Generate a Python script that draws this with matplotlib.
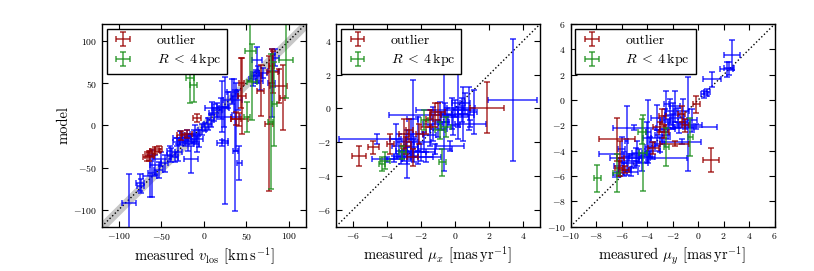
import matplotlib
matplotlib.use("Agg")
import matplotlib.pyplot as plt
import numpy as np

plt.rcParams.update({
    "font.family": "cmr10",
    "mathtext.fontset": "cm",
    "axes.formatter.use_mathtext": True,
    "xtick.direction": "in",
    "ytick.direction": "in",
    "xtick.top": True,
    "ytick.right": True,
    "xtick.major.size": 4,
    "ytick.major.size": 4,
    "xtick.labelsize": 7,
    "ytick.labelsize": 7,
    "axes.linewidth": 1.0,
})

BLUE = "#0000ff"
RED = "#990000"
GREEN = "#1a8f1a"

# rows: (measured, model, err_measured, err_model)
vlos_blue = [
    (-88, -92, 8, 34), (-75, -68, 5, 10), (-74, -72, 4, 8), (-63, -60, 8, 25),
    (-61, -57, 5, 28), (-57, -47, 6, 12), (-53, -53, 5, 10), (-50, -40, 10, 8),
    (-46, -45, 4, 10), (-38, -35, 5, 8), (-34, -38, 4, 6), (-25, -15, 6, 6),
    (-22, -18, 8, 7), (-20, -14, 5, 8), (-18, -20, 6, 10), (-15, -16, 7, 6),
    (-12, -13, 5, 8), (-15, -40, 8, 16), (-8, -22, 3, 10), (-5, -16, 4, 10),
    (-2, -5, 5, 6), (2, -2, 4, 5), (5, 2, 5, 7), (8, 6, 4, 8), (10, 20, 8, 8),
    (12, 15, 6, 10), (16, 18, 5, 8), (20, 20, 10, 12), (22, 22, 6, 30),
    (24, 10, 8, 12), (22, -21, 6, 4), (25, -18, 3, 75), (28, 30, 5, 10),
    (33, 40, 6, 15), (36, 35, 4, 20), (37, -30, 3, 72), (38, 10, 5, 40),
    (40, 30, 5, 12), (42, -45, 3, 20), (58, 55, 5, 8), (62, 58, 6, 8),
    (64, 60, 5, 10), (66, 52, 4, 10), (63, 78, 6, 15), (70, 62, 5, 6),
    (80, 50, 4, 40), (82, 65, 6, 20), (84, 80, 4, 10), (-30, -32, 4, 10),
    (-40, -30, 3, 6), (-28, -15, 8, 8), (-10, -10, 6, 10), (-32, -20, 4, 5),
]
vlos_red = [
    (-67, -37, 4, 5), (-64, -36, 5, 6), (-61, -33, 4, 5), (-57, -30, 6, 4),
    (-53, -28, 4, 4), (-27, -12, 5, 5), (-20, -10, 6, 5), (-8, 9, 5, 5),
    (38, 8, 6, 8), (42, 7, 10, 8), (45, 35, 5, 45), (44, 50, 3, 30),
    (67, 41, 4, 30), (77, 2, 5, 80), (81, 63, 6, 25), (88, 47, 10, 20),
    (93, 33, 3, 38), (80, 70, 3, 20),
]
vlos_green = [
    (-16, 56, 5, 30), (-12, 48, 4, 20), (55, 88, 6, 35), (57, 51, 6, 45),
    (51, 10, 4, 18), (79, 4, 3, 80), (83, 25, 3, 50), (97, 77, 8, 45),
]

mux_blue = [
    (3.4, 0.5, 1.45, 3.6), (-4.6, -1.8, 2.2, 0.3), (-1.4, -0.37, 2.5, 0.3),
    (-0.6, -0.1, 1.7, 0.4), (-2.5, -0.6, 0.3, 2.3), (-0.65, -0.8, 0.3, 2.9),
    (0.47, -0.3, 0.3, 1.6), (0.2, 0.3, 0.4, 2.1), (-2.8, -2.7, 0.3, 1.4),
    (-3.0, -2.5, 0.5, 0.6), (-2.8, -2.8, 0.6, 0.5), (-2.6, -2.3, 0.4, 0.8),
    (-3.2, -2.9, 0.4, 0.4), (-2.4, -2.6, 0.7, 0.6), (-2.2, -2.9, 0.9, 0.4),
    (-3.3, -2.2, 0.4, 0.7), (-2.9, -2.0, 0.5, 0.5), (-2.0, -2.6, 0.8, 0.5),
    (-3.6, -3.0, 0.5, 0.2), (-1.7, -2.9, 0.9, 0.3), (-2.6, -1.8, 0.3, 1.2),
    (-3.5, -1.8, 0.3, 0.9), (-4.0, -3.0, 0.9, 0.15), (0.9, -0.9, 0.9, 0.2),
    (0.2, -0.5, 0.6, 0.6), (0.0, 0.0, 0.5, 0.5), (-0.2, -0.3, 0.6, 0.9),
    (0.4, -0.1, 0.5, 0.7), (-0.8, -0.8, 0.4, 0.5), (-1.0, -1.2, 0.5, 0.5),
    (-0.5, -0.4, 0.3, 0.4), (0.8, 0.0, 0.4, 1.3), (1.1, -0.2, 0.2, 1.3),
    (-1.3, -0.9, 0.6, 1.0), (-1.2, -2.4, 1.0, 0.3), (-0.3, -2.2, 0.8, 0.3),
    (-1.5, -1.6, 0.4, 0.6), (-0.1, -1.0, 0.4, 0.6), (0.6, 0.3, 0.3, 0.6),
    (-2.2, -1.5, 0.3, 1.0), (-1.8, -2.0, 0.4, 0.6), (-0.9, -0.2, 0.3, 0.6),
]
mux_red = [
    (-5.65, -2.83, 0.4, 0.6), (-4.8, -2.3, 0.3, 0.4), (-3.8, -2.1, 0.2, 0.6),
    (-3.0, -1.5, 0.3, 0.9), (-2.7, -1.3, 0.2, 0.7), (-2.1, -1.5, 0.2, 0.6),
    (-1.5, -0.6, 0.2, 0.5), (-1.15, -0.4, 0.3, 0.7), (-1.0, -0.2, 0.4, 0.5),
    (1.9, 0.05, 1.0, 1.5), (-2.5, -2.9, 0.3, 0.5), (-1.7, -1.1, 0.3, 0.4),
    (-2.9, -2.2, 0.3, 0.5),
]
mux_green = [
    (-4.1, -3.1, 0.3, 0.5), (-4.3, -3.3, 0.2, 0.4), (-1.8, -0.7, 0.2, 0.6),
    (-0.75, -3.2, 0.2, 0.8), (-0.55, -1.1, 0.3, 0.6), (-0.9, -1.3, 0.3, 0.5),
    (-3.1, -2.6, 0.2, 0.4),
]

muy_blue = [
    (2.65, 3.56, 0.6, 1.2), (2.25, 2.43, 0.5, 0.6), (2.4, 2.5, 0.4, 0.5),
    (1.06, 1.64, 0.7, 0.6), (0.5, 0.45, 0.3, 0.3), (0.7, 0.6, 0.2, 0.3),
    (-0.8, -1.9, 0.2, 3.7), (-5.0, -2.2, 1.7, 0.2), (-5.8, -4.3, 2.0, 0.2),
    (-3.9, -4.56, 3.0, 0.2), (-0.2, -2.1, 1.7, 0.2), (-1.3, -3.3, 1.5, 0.2),
    (-5.6, -3.2, 0.1, 2.7), (-3.9, -2.5, 0.2, 2.5), (-1.6, -1.4, 0.5, 0.8),
    (-2.0, -1.2, 0.6, 1.0), (-1.2, -0.9, 0.5, 1.0), (-1.8, -0.5, 0.4, 1.2),
    (-3.2, -1.4, 0.5, 1.0), (-4.0, -3.0, 0.3, 1.3), (-2.0, -1.7, 1.0, 0.6),
    (-1.0, -2.0, 1.3, 0.3), (-6.2, -5.2, 0.4, 0.6), (-5.8, -5.5, 0.5, 0.5),
    (-5.5, -5.0, 0.5, 0.6), (-5.2, -4.8, 0.6, 0.5), (-4.9, -4.6, 0.5, 0.8),
    (-4.6, -4.4, 0.8, 0.5), (-4.4, -5.0, 0.5, 0.6), (-5.3, -5.7, 0.6, 0.3),
    (-6.4, -5.9, 0.3, 0.2), (-4.0, -4.5, 0.6, 0.4), (-3.8, -3.7, 0.4, 0.8),
    (-3.2, -3.0, 0.5, 0.6), (-2.8, -2.8, 0.6, 0.5), (-2.4, -2.3, 0.6, 0.8),
    (-2.6, -1.6, 0.4, 0.9), (-2.2, -0.9, 0.3, 1.0), (-0.5, -1.6, 0.4, 0.9),
    (-3.6, -4.0, 0.6, 0.7), (-3.0, -3.5, 0.4, 0.6), (-1.5, -2.2, 1.2, 0.4),
    (-4.8, -4.2, 0.4, 1.0), (-6.0, -3.9, 0.3, 1.0), (-2.5, -0.3, 0.2, 1.0),
]
muy_red = [
    (-6.35, -3.1, 1.4, 1.7), (-6.1, -4.6, 0.3, 1.4), (-6.2, -5.4, 0.3, 0.6),
    (-3.0, -2.1, 0.5, 0.4), (-2.8, -1.3, 0.3, 0.6), (-1.3, -1.1, 0.3, 0.6),
    (-1.85, -3.45, 1.1, 0.2), (-0.13, -0.35, 0.3, 0.7), (1.0, -4.75, 0.6, 0.95),
    (-3.5, -3.8, 0.4, 0.5), (-2.7, -2.5, 0.4, 0.5), (-5.7, -5.5, 0.3, 0.3),
    (-1.0, -2.0, 0.3, 0.5),
]
muy_green = [
    (-7.9, -6.2, 0.3, 1.1), (-6.4, -5.8, 0.3, 1.5), (-4.3, -4.2, 0.3, 3.0),
    (-2.5, -3.7, 0.2, 1.5), (-0.63, -2.9, 0.2, 1.5), (-4.4, -2.5, 0.3, 1.0),
]

PANELS = [
    (vlos_blue, vlos_red, vlos_green, (-120, 120), [-100, -50, 0, 50, 100],
     r"measured $v_{\rm los}$ $[{\rm km\,s^{-1}}]$"),
    (mux_blue, mux_red, mux_green, (-7, 5), [-6, -4, -2, 0, 2, 4],
     r"measured $\mu_x$ $[{\rm mas\,yr^{-1}}]$"),
    (muy_blue, muy_red, muy_green, (-10, 6), [-10, -8, -6, -4, -2, 0, 2, 4, 6],
     r"measured $\mu_y$ $[{\rm mas\,yr^{-1}}]$"),
]
BAND = 7  # half-width of grey band in km/s (panel 1 only)


def draw_group(ax, rows, color, label=None):
    a = np.array(rows, dtype=float)
    ax.errorbar(a[:, 0], a[:, 1], xerr=a[:, 2], yerr=a[:, 3], fmt="none",
                ecolor=color, elinewidth=1.2, capsize=2.5, capthick=1.2,
                alpha=0.75, label=label)


fig = plt.figure(figsize=(8.14, 2.71), dpi=100)
lefts = [0.125, 0.4128, 0.701]
for i, (blue, red, green, lim, ticks, xlabel) in enumerate(PANELS):
    ax = fig.add_axes([lefts[i], 0.164, 0.2506, 0.747])
    line = np.array(lim, dtype=float)
    if i == 0:
        ax.fill_between(line, line - BAND, line + BAND, color="0.78", lw=0)
    ax.plot(line, line, "k:", lw=1.0)
    draw_group(ax, blue, BLUE)
    draw_group(ax, red, RED, "outlier")
    draw_group(ax, green, GREEN, r"$R\; <\; 4\,{\rm kpc}$")
    ax.set_xlim(lim)
    ax.set_ylim(lim)
    ax.set_xticks(ticks)
    ax.set_yticks(ticks)
    ax.set_xlabel(xlabel, fontsize=10.5, labelpad=2)
    if i == 0:
        ax.set_ylabel("model", fontsize=10.5, labelpad=2)
    leg = ax.legend(loc="upper left", fontsize=10, fancybox=False,
                    framealpha=1, edgecolor="k", borderaxespad=0.35,
                    handlelength=1.6, handletextpad=1.6, borderpad=0.4,
                    labelspacing=0.3)
    leg.get_frame().set_linewidth(1.0)

fig.savefig("out.png", dpi=100)
